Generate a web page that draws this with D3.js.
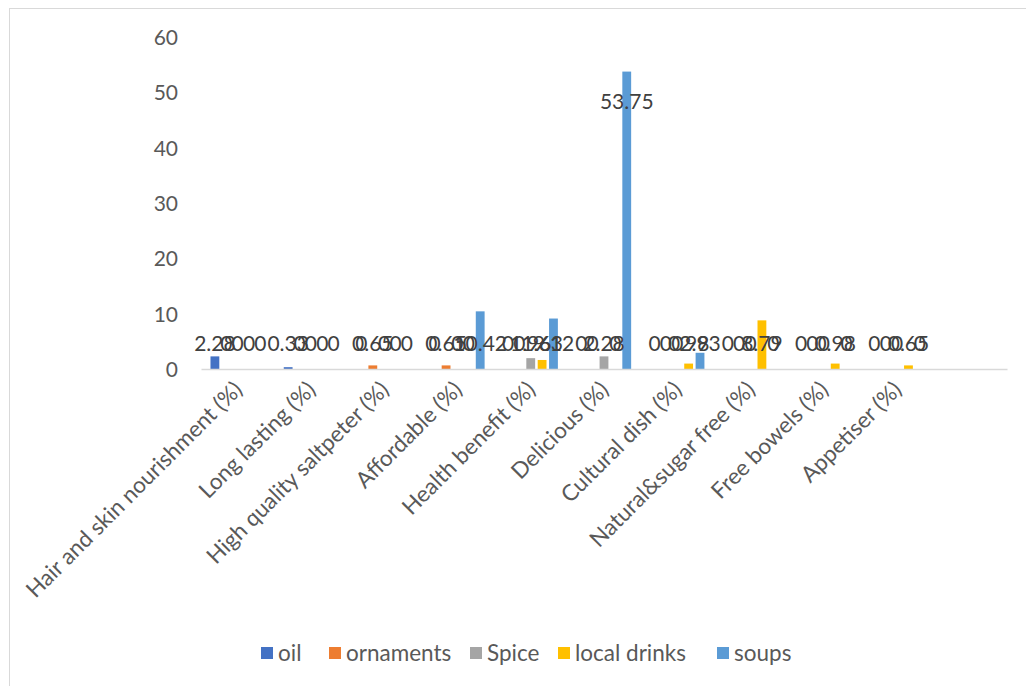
<!DOCTYPE html>
<html>
<head>
<meta charset="utf-8">
<script src="https://cdn.jsdelivr.net/npm/d3@7"></script>
<style>
  html, body { margin: 0; padding: 0; background: #ffffff; }
  svg text { font-family: Lato, "Open Sans", sans-serif; }
</style>
</head>
<body>
<svg id="chart" width="1026" height="686"></svg>
<script>
// Categories along the x axis (the last slot is an empty category)
const categories = [
  "Hair and skin nourishment (%)", "Long lasting (%)", "High quality saltpeter (%)",
  "Affordable (%)", "Health benefit (%)", "Delicious (%)", "Cultural dish (%)",
  "Natural&sugar free (%)", "Free bowels (%)", "Appetiser (%)", ""
];
const seriesNames = ["oil", "ornaments", "Spice", "local drinks", "soups"];
const seriesColors = ["#4472C4", "#ED7D31", "#A5A5A5", "#FFC000", "#5B9BD5"];

// Series values, one entry per category
const oil         = [2.28, 0.33, 0,    0,     0,    0,     0,    0,    0,    0,    null];
const ornaments   = [0,    0,    0.65, 0.65,  0,    0,     0,    0,    0,    0,    null];
const spice       = [0,    0,    0,    0,     1.96, 2.28,  0,    0,    0,    0,    null];
const localDrinks = [0,    0,    0,    0,     1.63, 0,     0.98, 8.79, 0.98, 0.65, null];
const soups       = [0,    0,    0,    10.42, 9.12, 53.75, 2.93, 0,    0,    0,    null];

const yTicks = [0, 10, 20, 30, 40, 50, 60];

const seriesValues = [oil, ornaments, spice, localDrinks, soups];

const svg = d3.select("#chart");

// chart frame
svg.append("rect")
  .attr("x", 9.5).attr("y", 8.5)
  .attr("width", 1100).attr("height", 700)
  .attr("fill", "#ffffff").attr("stroke", "#D9D9D9").attr("stroke-width", 1);

const plot = { left: 201, right: 1007, top: 37, bottom: 369 };

const x0 = d3.scaleBand().domain(d3.range(categories.length))
  .range([plot.left, plot.right]).paddingInner(0).paddingOuter(0);
const x1 = d3.scaleBand().domain(d3.range(seriesNames.length))
  .range([0, x0.bandwidth()]).paddingInner(0.224).paddingOuter(0.834);
const y = d3.scaleLinear().domain([0, 60]).range([plot.bottom, plot.top]);

const textColor = "#595959";

// y axis labels (no axis line, no gridlines)
const yAxis = d3.axisLeft(y).tickValues(yTicks).tickSize(0).tickPadding(23);
const gy = svg.append("g").attr("transform", `translate(${plot.left},0)`).call(yAxis);
gy.select(".domain").remove();
gy.selectAll("text")
  .attr("fill", textColor)
  .style("font-size", "21px")
  .style("font-family", "Lato, 'Open Sans', sans-serif")
  .attr("dy", "0.36em");

// bars
const flat = [];
seriesValues.forEach((vals, si) => {
  vals.forEach((v, ci) => {
    if (v !== null) flat.push({ si, ci, v });
  });
});

svg.append("g").selectAll("rect")
  .data(flat)
  .join("rect")
  .attr("x", d => x0(d.ci) + x1(d.si))
  .attr("width", x1.bandwidth())
  .attr("y", d => y(d.v))
  .attr("height", d => y(0) - y(d.v))
  .attr("fill", d => seriesColors[d.si]);

// category axis line
const xAxis = d3.axisBottom(x0).tickSize(0).tickFormat("");
const gx = svg.append("g").attr("transform", `translate(0,${plot.bottom})`).call(xAxis);
gx.select(".domain").attr("stroke", "#D9D9D9").attr("stroke-width", 1.3);

// rotated category labels
svg.append("g").selectAll("text")
  .data(categories)
  .join("text")
  .attr("text-anchor", "end")
  .attr("transform", (d, i) => {
    const cx = x0(i) + x0.bandwidth() / 2 + 6;
    return `translate(${cx},${plot.bottom + 22}) rotate(-45)`;
  })
  .attr("fill", textColor)
  .style("font-size", "22.5px")
  .text(d => d);

// data labels: inside base for short bars, inside end for tall ones
svg.append("g").selectAll("text")
  .data(flat)
  .join("text")
  .attr("text-anchor", "middle")
  .attr("x", d => x0(d.ci) + x1(d.si) + x1.bandwidth() / 2)
  .attr("y", d => d.v > 50 ? y(d.v) + 37 : y(0) - 18)
  .attr("fill", "#404040")
  .style("font-size", "21px")
  .text(d => d3.format(".2~f")(d.v));

// legend
const legendX = [261, 329, 470, 558, 717];
const legend = svg.append("g");
seriesNames.forEach((name, i) => {
  const g = legend.append("g").attr("transform", `translate(${legendX[i]},653)`);
  g.append("rect").attr("x", 0).attr("y", -6).attr("width", 12).attr("height", 12)
    .attr("fill", seriesColors[i]);
  g.append("text").attr("x", 17).attr("y", 0).attr("dy", "0.36em")
    .attr("fill", textColor).style("font-size", "22.5px").text(name);
});
</script>
</body>
</html>
